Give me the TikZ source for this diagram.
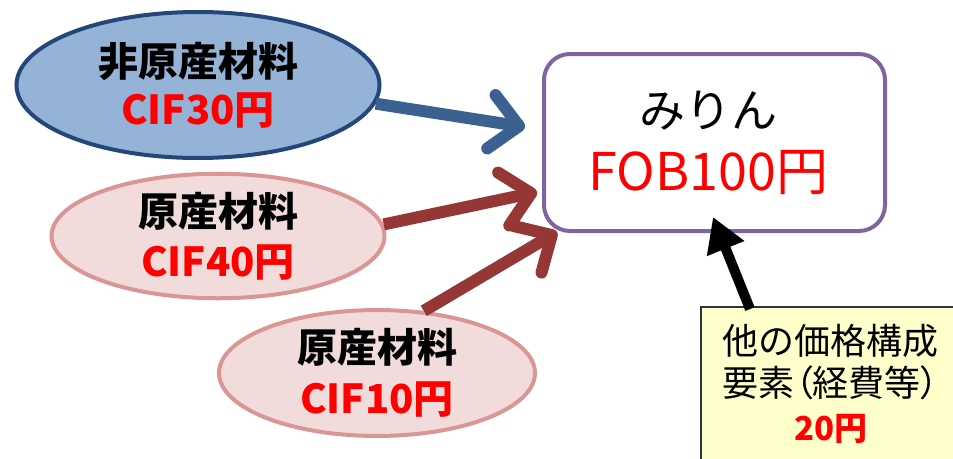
\documentclass[tikz,border=0pt]{standalone}
\usepackage{fontspec}
\setmainfont{Noto Sans CJK JP}
\usetikzlibrary{arrows.meta,shapes.geometric}

\definecolor{hiblue}{HTML}{95B3D7}
\definecolor{hiline}{HTML}{24477A}
\definecolor{hiarrow}{HTML}{3A6190}
\definecolor{genfill}{HTML}{F2DCDB}
\definecolor{genline}{HTML}{D99694}
\definecolor{genarrow}{HTML}{953735}
\definecolor{boxline}{HTML}{8064A2}
\definecolor{notefill}{HTML}{FFFFCC}

\begin{document}
\begin{tikzpicture}[x=1pt,y=-1pt,
  mat/.style={ellipse,line width=4pt,inner sep=0pt,align=center,
    font=\fontsize{40}{48}\selectfont\bfseries},
  barb/.style={line width=12pt,-{Straight Barb[length=28pt,width=54pt,round]}}]
\clip (0,0) rectangle (953,458);

% materials
\node[mat,draw=hiline,fill=hiblue,minimum width=363pt,minimum height=146pt] (hi) at (198,85)
  {非原産材料\\\textcolor{red}{CIF30円}};
\node[mat,draw=genline,fill=genfill,minimum width=333pt,minimum height=118pt] (gen1) at (218,236)
  {原産材料\\[2pt]\textcolor{red}{CIF40円}};
\node[mat,draw=genline,fill=genfill,minimum width=316pt,minimum height=113pt] (gen2) at (377,373)
  {原産材料\\[3pt]\textcolor{red}{CIF10円}};

% product
\node[draw=boxline,line width=4pt,rounded corners=26pt,minimum width=341pt,minimum height=177pt,
  align=center,font=\fontsize{46}{63}\selectfont] (mirin) at (714.5,142.5)
  {みりん\hspace*{12pt}\\{\fontsize{52}{63}\selectfont\textcolor{red}{FOB100円}}\hspace*{12pt}};

% other costs
\node[draw=black!80,line width=1.5pt,fill=notefill,minimum width=260pt,minimum height=175pt,
  align=center,anchor=north west,font=\fontsize{36}{42.5}\selectfont] (other) at (700,306)
  {他の価格構成\\{\addfontfeatures{RawFeature=+palt}要素（経費等）}\\[1pt]
   {\fontsize{33}{40}\selectfont\bfseries\textcolor{red}{20円}}\\[-18pt]\mbox{}};

\coordinate (t1) at (525,127);
\coordinate (t2) at (537,192);
\coordinate (t3) at (557,232);
\coordinate (t4) at (713,217);

\draw[barb,hiarrow] (hi.-6) -- (t1);
\draw[barb,genarrow] (gen1.4) -- (t2);
\draw[barb,genarrow] (gen2.53) -- (t3);
\draw[line width=10pt,-{Triangle[length=34pt,width=38pt]}] ([xshift=50pt,yshift=-3pt]other.north west) -- (t4);
\end{tikzpicture}
\end{document}
